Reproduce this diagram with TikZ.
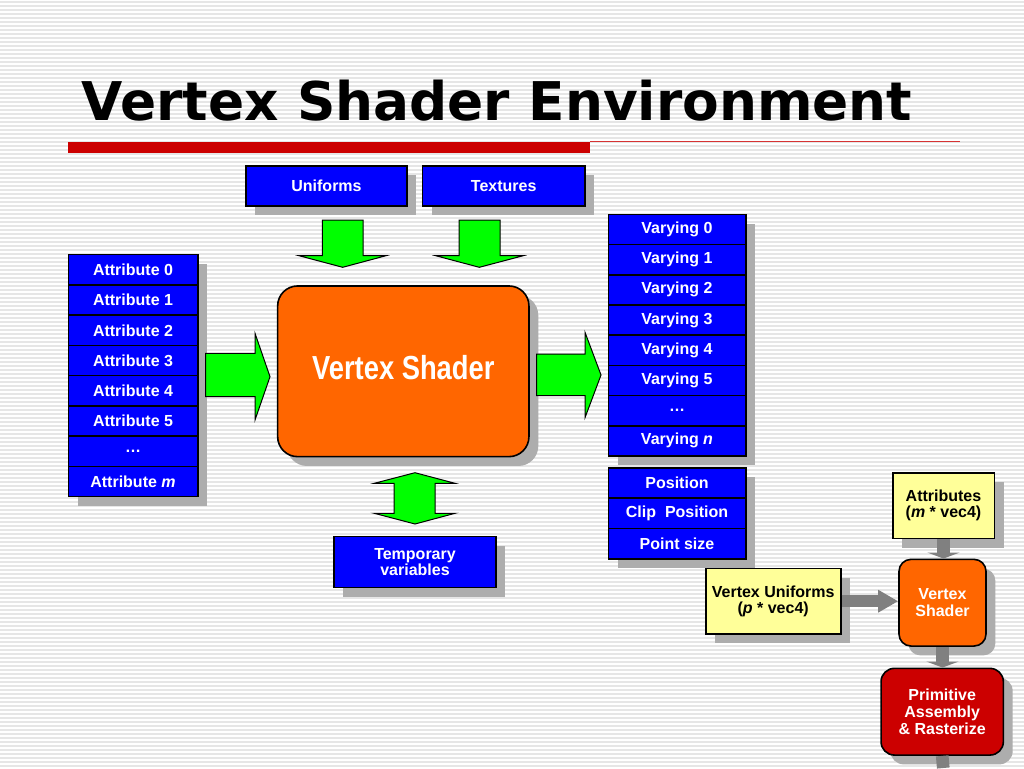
\documentclass[tikz,border=0pt]{standalone}
\usepackage{fontspec}
\setmainfont{Liberation Sans}
\newfontfamily\titlefont{DejaVu Sans}
\newfontfamily\narrowfont[FakeStretch=0.82]{Liberation Sans}
\usetikzlibrary{shadows, arrows.meta}

\definecolor{slideblue}{RGB}{0,0,255}
\definecolor{shaderorange}{RGB}{255,102,0}
\definecolor{arrowgreen}{RGB}{0,255,0}
\definecolor{noteyellow}{RGB}{255,255,153}
\definecolor{primred}{RGB}{204,0,0}
\definecolor{stripegray}{RGB}{230,230,230}

\tikzset{
    boxshadow/.style = {drop shadow = {shadow xshift = 7pt, shadow yshift = -7pt, fill = black!32, opacity = 1}},
    slot/.style 2 args = {boxshadow, draw, line width = 1.2pt, inner sep = 0pt, align = center,
        minimum width = #1*0.75pt, minimum height = #2*0.75pt,
        font = \fontsize{12}{12.5}\selectfont\bfseries},
    blueslot/.style 2 args = {slot = {#1}{#2}, fill = slideblue, text = white},
    noteslot/.style 2 args = {slot = {#1}{#2}, fill = noteyellow, text = black},
    blockarrow/.style = {fill = arrowgreen, draw = black, line width = 0.75pt},
    feed/.style = {draw = black!50, line width = 9.5pt}
}

\begin{document}
\begin{tikzpicture}[x = 0.75pt, y = -0.75pt]
    \useasboundingbox (0,0) rectangle (1024,768);
    \fill[white] (0,0) rectangle (1024,768);
    \foreach \y in {2,6,...,766}
        \draw[stripegray, line width = 1pt] (0,\y) -- (1024,\y);

    \node[anchor = base west, font = \titlefont\bfseries\fontsize{40}{48}\selectfont] (title) at (77,120) {Vertex Shader Environment};
    \fill[primred] (68,142) rectangle (590,153);
    \draw[primred!80, line width = 1pt] (590,141.5) -- (960,141.5);

    \node[blueslot = {161}{40}] (unif) at (326.5,186) {Uniforms};
    \node[blueslot = {162.7}{40}] (tex) at (503.7,186) {Textures};

    \foreach \lbl [count = \k from 0] in {Attribute 0, Attribute 1, Attribute 2, Attribute 3, Attribute 4, Attribute 5, …, {Attribute \textit{m}}}
        \node[blueslot = {129.4}{30.25}] (attr\k) at (133,{269.8+30.25*\k}) {\lbl};

    \foreach \lbl [count = \k from 0] in {Varying 0, Varying 1, Varying 2, Varying 3, Varying 4, Varying 5, …, {Varying \textit{n}}}
        \node[blueslot = {137.4}{30.2}] (vary\k) at (677,{229.4+30.2*\k}) {\lbl};

    \foreach \lbl [count = \k from 0] in {Position, Clip\ \ Position, Point size}
        \node[blueslot = {137.4}{30.4}] (out\k) at (677,{482.9+30.4*\k}) {\lbl};

    \node[blueslot = {251.3}{170.7}, fill = shaderorange, rounded corners = 15pt, text depth = 6pt,
          font = \narrowfont\bfseries\fontsize{25}{30}\selectfont] (shader) at (403.3,371.3) {Vertex Shader};
    \node[blueslot = {162}{51}] (temp) at (415,562) {Temporary\\variables};

    \filldraw[blockarrow] (322.3,220) -- (363,220) -- (363,255.7) -- (386,255.7) -- (342.7,267.3) -- (299,255.7) -- (322.3,255.7) -- cycle;
    \filldraw[blockarrow] (459,220) -- (500,220) -- (500,255.7) -- (523.3,255.7) -- (479.3,267.3) -- (435.7,255.7) -- (459,255.7) -- cycle;
    \filldraw[blockarrow] (205.7,353.3) -- (255,353.3) -- (255,333.3) -- (270,376.7) -- (255,420) -- (255,396.7) -- (205.7,396.7) -- cycle;
    \filldraw[blockarrow] (536.7,354) -- (585,354) -- (585,332.3) -- (601,375) -- (585,417.7) -- (585,395.7) -- (536.7,395.7) -- cycle;
    \filldraw[blockarrow] (415,472.7) -- (455,483.3) -- (435,483.3) -- (435,513.3) -- (455,513.3) -- (415,524) -- (374.3,513.3) -- (394,513.3) -- (394,483.3) -- (374.3,483.3) -- cycle;

    \node[noteslot = {101.6}{65.6}] (attrs) at (943.5,505.5) {Attributes\\(\textit{m} * vec4)};
    \node[noteslot = {135}{65.7}] (vunif) at (773.2,601.2) {Vertex Uniforms\\(\textit{p} * vec4)};
    \node[blueslot = {87}{86.7}, fill = shaderorange, rounded corners = 9pt] (vs) at (942.5,602.7) {Vertex\\Shader};
    \node[blueslot = {122.3}{86.7}, fill = primred, rounded corners = 10pt] (prim) at (942.2,711.7) {Primitive\\Assembly\\\& Rasterize};
    \coordinate (tail) at (943.3,768);

    \draw[feed, line width = 9pt, -{Triangle[length = 15pt, width = 16pt]}] (vunif.east) -- (vunif.east -| vs.west);
    \draw[feed, -{Triangle[length = 4.5pt, width = 24pt]}] (attrs.south) -- (attrs.south |- vs.north);
    \draw[feed, -{Triangle[length = 4.5pt, width = 24pt]}] (vs.south) -- (vs.south |- prim.north);
    \draw[feed] (prim.south) -- (tail);
\end{tikzpicture}
\end{document}
